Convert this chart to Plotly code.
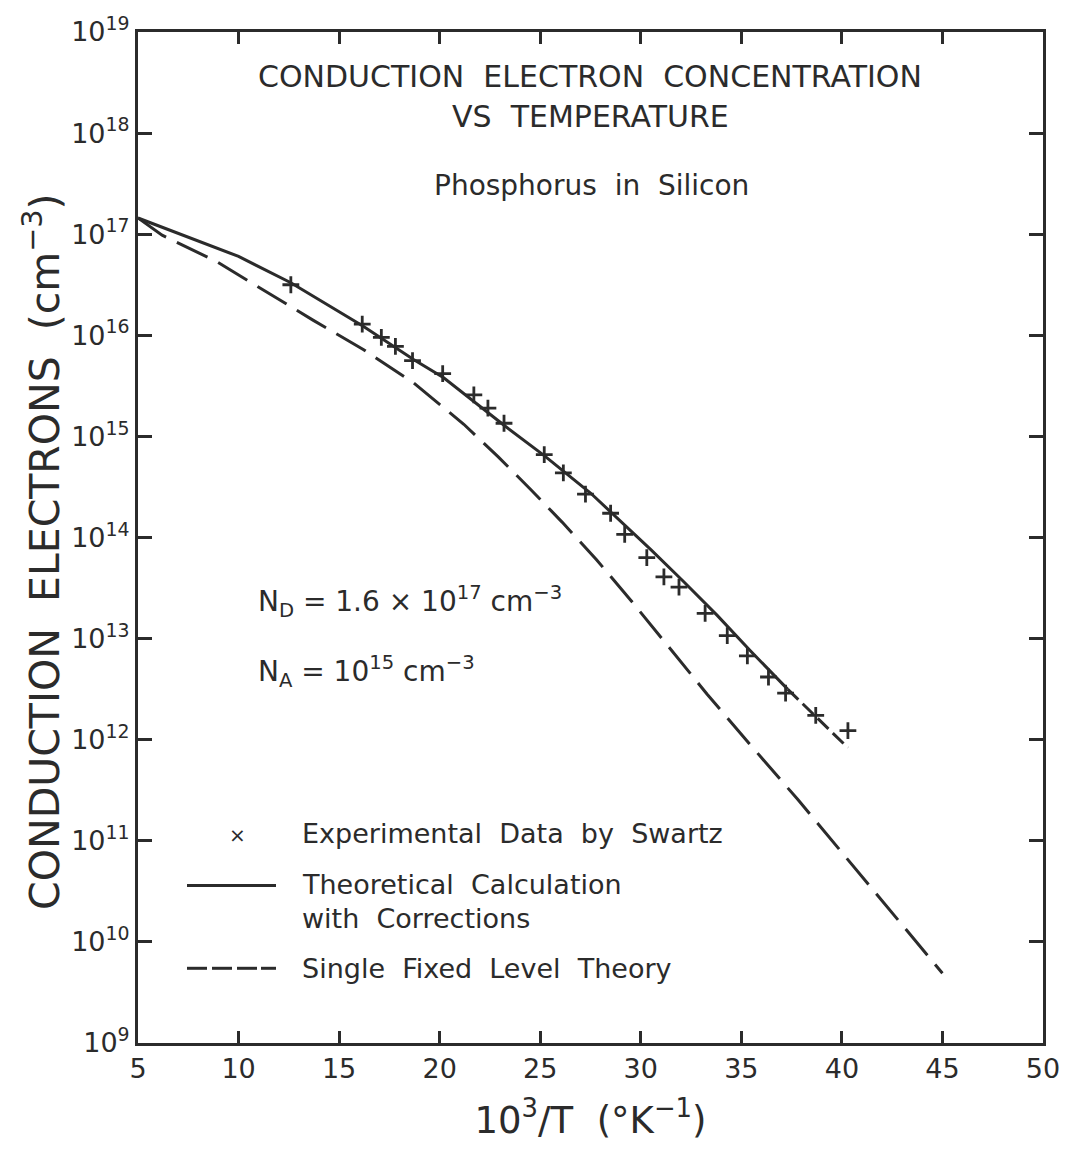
import plotly.graph_objects as go

# Experimental data by Swartz (x = 10^3/T, y = electrons cm^-3)
exp_x = [12.6, 16.15, 17.1, 17.8, 18.65, 20.15, 21.7, 22.4, 23.2, 25.2, 26.15, 27.25,
         28.5, 29.2, 30.3, 31.15, 31.9, 33.2, 34.3, 35.3, 36.35, 37.2, 38.7, 40.3]
exp_log = [16.50, 16.11, 15.98, 15.89, 15.75, 15.62, 15.41, 15.28, 15.13, 14.82, 14.64, 14.43,
           14.24, 14.03, 13.80, 13.61, 13.51, 13.25, 13.03, 12.83, 12.62, 12.46, 12.24, 12.09]
exp_y = [10 ** v for v in exp_log]

# Theoretical calculation with corrections (solid)
theo_x = [5.0, 10.0, 12.6, 16.2, 18.7, 20.2, 23.2, 25.2, 27.5, 29.6, 30.5, 32.1, 33.8, 35.4, 37.3]
theo_log = [17.16, 16.78, 16.52, 16.09, 15.76, 15.58, 15.11, 14.81, 14.44, 14.05, 13.88, 13.57, 13.23, 12.89, 12.50]
theo_y = [10 ** v for v in theo_log]

# Extrapolated part of the corrected theory (short dashes)
ext_x = [37.3, 40.3]
ext_log = [12.50, 11.92]
ext_y = [10 ** v for v in ext_log]

# Single fixed level theory (long dashes)
sfl_x = [5.0, 6.2, 8.9, 11.2, 13.7, 16.2, 18.7, 21.2, 22.9, 24.5, 26.1, 27.8, 29.5, 31.3, 33.3, 35.4, 37.8, 45.0]
sfl_log = [17.16, 16.99, 16.73, 16.45, 16.15, 15.86, 15.53, 15.12, 14.80, 14.48, 14.15, 13.78, 13.38, 12.94, 12.45, 11.96, 11.41, 9.69]
sfl_y = [10 ** v for v in sfl_log]

x_ticks = [5, 10, 15, 20, 25, 30, 35, 40, 45, 50]
y_exps = [9, 10, 11, 12, 13, 14, 15, 16, 17, 18, 19]

INK = "#2b2b2b"
FONT = "DejaVu Sans"

fig = go.Figure()
fig.add_trace(go.Scatter(x=sfl_x, y=sfl_y, mode="lines", name="Single Fixed Level Theory",
                         line=dict(color=INK, width=3, dash="34px,12px"), showlegend=False))
fig.add_trace(go.Scatter(x=theo_x, y=theo_y, mode="lines", name="Theoretical Calculation with Corrections",
                         line=dict(color=INK, width=3), showlegend=False))
fig.add_trace(go.Scatter(x=ext_x, y=ext_y, mode="lines", name="extrapolation",
                         line=dict(color=INK, width=3, dash="15px,6px"), showlegend=False))
fig.add_trace(go.Scatter(x=exp_x, y=exp_y, mode="markers", name="Experimental Data by Swartz",
                         marker=dict(symbol="cross-thin", size=12, line=dict(color=INK, width=2.8)),
                         showlegend=False))

ann = []
def txt(x, y, s, size, xanchor="center", angle=0):
    ann.append(dict(x=x, y=y, xref="paper", yref="paper", text=s, showarrow=False, textangle=angle,
                    xanchor=xanchor, yanchor="middle", font=dict(family=FONT, size=size, color=INK)))

W, H = 1073, 1150
L, R, T, B = 138, 1043, 28, 1043
def px(xp): return (xp - L) / (R - L)
def py(yp): return (B - yp) / (B - T)

txt(px(590), py(73), "CONDUCTION  ELECTRON  CONCENTRATION", 30)
txt(px(590), py(113), "VS  TEMPERATURE", 30)
txt(px(591), py(182), "Phosphorus  in  Silicon", 28)
txt(px(256), py(600), "N<sub>D</sub> = 1.6 × 10<sup>17</sup> cm<sup>−3</sup>", 28, "left")
txt(px(256), py(670), "N<sub>A</sub> = 10<sup>15</sup> cm<sup>−3</sup>", 28, "left")

# y-axis title
txt(px(42), py(550), "CONDUCTION  ELECTRONS  (cm<sup>−3</sup>)", 41, "center", -90)

# legend
txt(px(237), py(834), "×", 20)
txt(px(300), py(833), "Experimental  Data  by  Swartz", 27, "left")
txt(px(300), py(884), "Theoretical  Calculation", 27, "left")
txt(px(300), py(918), "with  Corrections", 27, "left")
txt(px(300), py(968), "Single  Fixed  Level  Theory", 27, "left")

shapes = [
    dict(type="line", xref="paper", yref="paper", x0=px(187), x1=px(276), y0=py(885), y1=py(885),
         line=dict(color=INK, width=3)),
]
for a, b in [(187, 207), (212, 232), (237, 257), (261, 276)]:
    shapes.append(dict(type="line", xref="paper", yref="paper", x0=px(a), x1=px(b), y0=py(968), y1=py(968),
                       line=dict(color=INK, width=3)))

fig.update_layout(
    width=W, height=H,
    margin=dict(l=L, r=W - R, t=T, b=H - B),
    paper_bgcolor="white", plot_bgcolor="white",
    showlegend=False,
    annotations=ann, shapes=shapes,
    font=dict(family=FONT, color=INK),
)
fig.update_xaxes(range=[5, 50], tickvals=x_ticks, ticktext=[str(v) for v in x_ticks],
                 ticks="inside", ticklen=12, tickwidth=2.5, tickcolor=INK,
                 showline=True, linecolor=INK, linewidth=3, mirror="ticks",
                 showgrid=False, zeroline=False,
                 tickfont=dict(family=FONT, size=27, color=INK),
                 title=dict(text="10<sup>3</sup>/T  (°K<sup>−1</sup>)", font=dict(family=FONT, size=37, color=INK),
                            standoff=24))
fig.update_yaxes(type="log", range=[9, 19], tickvals=[10 ** e for e in y_exps],
                 ticktext=["10<sup>%d</sup>" % e for e in y_exps],
                 ticks="inside", ticklen=14, tickwidth=2.5, tickcolor=INK,
                 showline=True, linecolor=INK, linewidth=3, mirror="ticks",
                 showgrid=False, zeroline=False,
                 tickfont=dict(family=FONT, size=27, color=INK))

fig.write_html("out.html")
